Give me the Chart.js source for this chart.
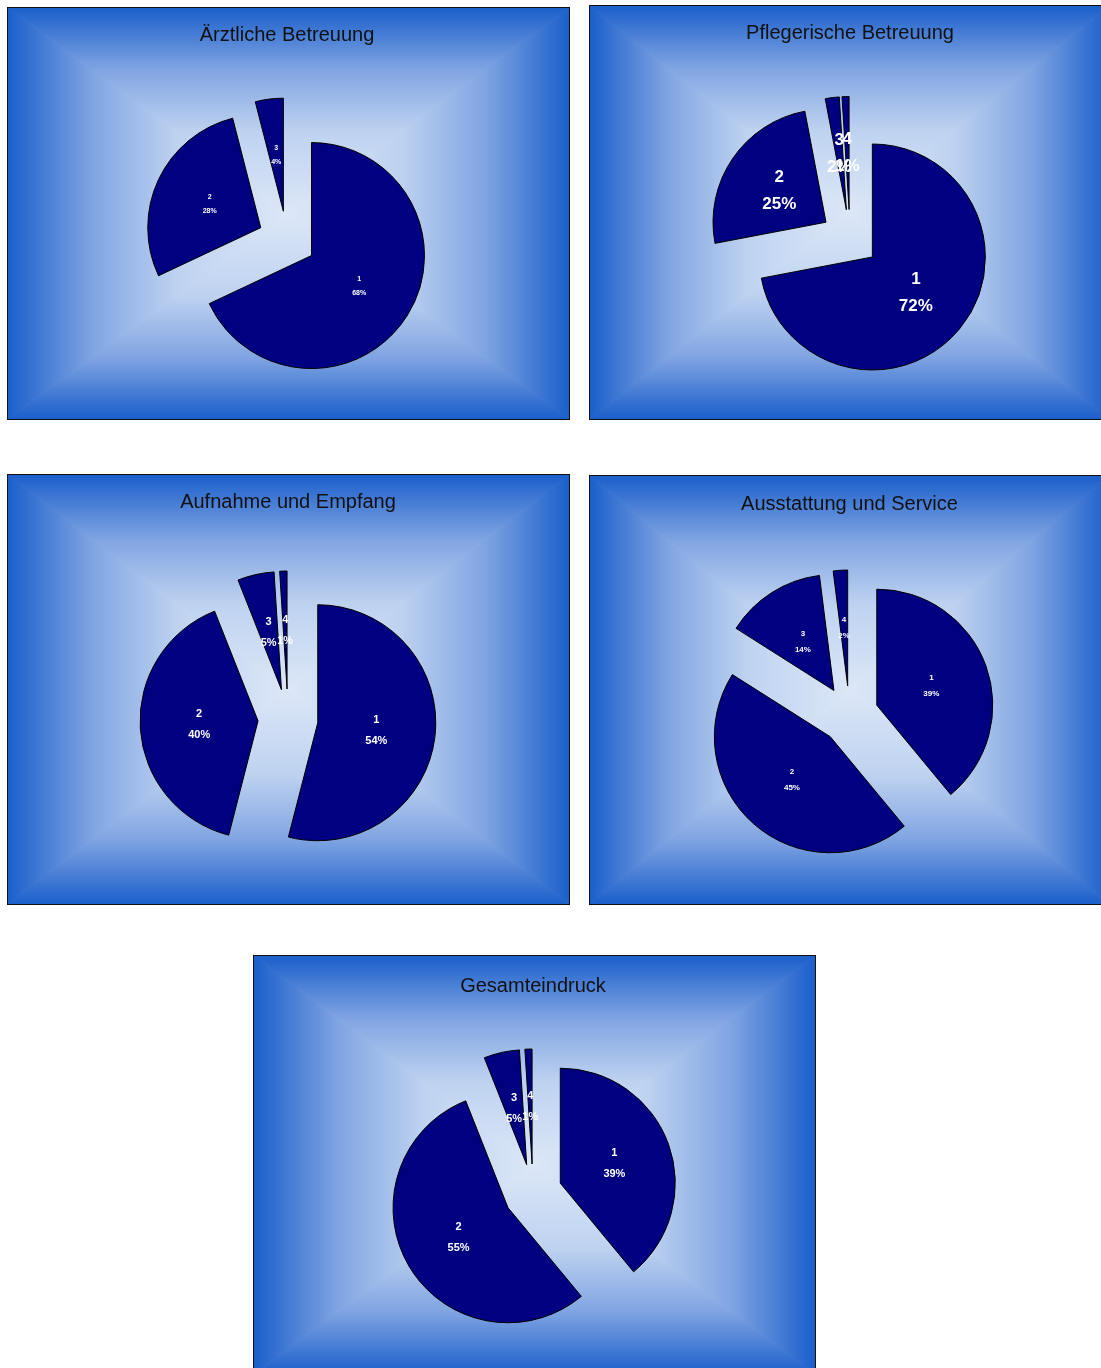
<!DOCTYPE html>
<html>
<head>
<meta charset="utf-8">
<script src="https://cdn.jsdelivr.net/npm/chart.js@4/dist/chart.umd.min.js"></script>
<style>
    body { margin: 0; background: #fff; width: 1101px; height: 1368px; overflow: hidden; position: relative; }
    .panel { position: absolute; border: 1px solid #111; }
    .panel canvas { display: block; }
</style>
</head>
<body>
<div class="panel" id="p1" style="left:7px; top:7px;"><canvas id="c1" width="561" height="411"></canvas></div>
<div class="panel" id="p2" style="left:589px; top:5px;"><canvas id="c2" width="519" height="413"></canvas></div>
<div class="panel" id="p3" style="left:7px; top:474px;"><canvas id="c3" width="561" height="429"></canvas></div>
<div class="panel" id="p4" style="left:589px; top:475px;"><canvas id="c4" width="519" height="428"></canvas></div>
<div class="panel" id="p5" style="left:253px; top:955px;"><canvas id="c5" width="561" height="418"></canvas></div>

<script>
// data
var categories = ['1', '2', '3', '4'];
var chartTitles = ['Ärztliche Betreuung', 'Pflegerische Betreuung', 'Aufnahme und Empfang', 'Ausstattung und Service', 'Gesamteindruck'];
var aerztlich = [68, 28, 4];
var pflegerisch = [72, 25, 2, 1];
var aufnahme = [54, 40, 5, 1];
var ausstattung = [39, 45, 14, 2];
var gesamt = [39, 55, 5, 1];

// per chart layout: radius, explode distance (px), title padding, side padding, label font
var setups = [
    {id: 'c1', values: aerztlich,   radius: 113, explode: 29, tTop: 15, tBottom: 14, pl: 0, pr: 3, fs: 7,  gap: 14},
    {id: 'c2', values: pflegerisch, radius: 113, explode: 29, tTop: 15, tBottom: 13, pl: 1, pr: 0, fs: 17, gap: 27},
    {id: 'c3', values: aufnahme,    radius: 118, explode: 30, tTop: 15, tBottom: 20, pl: 0, pr: 1, fs: 11, gap: 21},
    {id: 'c4', values: ausstattung, radius: 116, explode: 29, tTop: 16, tBottom: 10, pl: 0, pr: 0, fs: 8,  gap: 16},
    {id: 'c5', values: gesamt,      radius: 115, explode: 29, tTop: 18, tBottom: 14, pl: 0, pr: 3, fs: 11, gap: 21}
];

// rectangular "from center" gradient like the old office charts
var bgPlugin = {
    id: 'rectGradient',
    beforeDraw: function(chart){
        var ctx = chart.ctx;
        var w = chart.width, h = chart.height;
        var cx = w / 2, cy = h / 2;
        var stops = [[0, '#dce7f7'], [0.4, '#bed2f0'], [0.7, '#80a4e2'], [1, '#1b5fcb']];
        var tris = [
            [[0, 0], [w, 0], cx, cy, cx, 0],
            [[w, 0], [w, h], cx, cy, w, cy],
            [[w, h], [0, h], cx, cy, cx, h],
            [[0, h], [0, 0], cx, cy, 0, cy]
        ];
        ctx.save();
        tris.forEach(function(t){
            var g = ctx.createLinearGradient(t[2], t[3], t[4], t[5]);
            stops.forEach(function(s){ g.addColorStop(s[0], s[1]); });
            ctx.beginPath();
            ctx.moveTo(cx, cy);
            ctx.lineTo(t[0][0], t[0][1]);
            ctx.lineTo(t[1][0], t[1][1]);
            ctx.closePath();
            ctx.fillStyle = g;
            ctx.strokeStyle = g;
            ctx.lineWidth = 1;
            ctx.fill();
            ctx.stroke();
        });
        ctx.restore();
    }
};

// pull every slice out of the centre along its middle angle (excel style explosion)
var explodePlugin = {
    id: 'explode',
    beforeDatasetsDraw: function(chart, args, opts){
        var area = chart.chartArea;
        var cx = (area.left + area.right) / 2;
        var cy = (area.top + area.bottom) / 2;
        chart.getDatasetMeta(0).data.forEach(function(arc){
            var mid = (arc.startAngle + arc.endAngle) / 2;
            arc.x = cx + Math.cos(mid) * opts.dist;
            arc.y = cy + Math.sin(mid) * opts.dist;
        });
    }
};

// "1 / 68%" labels inside each slice
var labelPlugin = {
    id: 'sliceLabels',
    afterDatasetsDraw: function(chart, args, opts){
        var ctx = chart.ctx;
        var meta = chart.getDatasetMeta(0);
        var values = chart.data.datasets[0].data;
        var total = values.reduce(function(a, b){ return a + b; }, 0);
        ctx.save();
        ctx.fillStyle = '#fff';
        ctx.textAlign = 'center';
        ctx.textBaseline = 'middle';
        ctx.font = 'bold ' + opts.fs + 'px "Liberation Sans", Arial, sans-serif';
        meta.data.forEach(function(arc, i){
            var mid = (arc.startAngle + arc.endAngle) / 2;
            var x = arc.x + Math.cos(mid) * arc.outerRadius * 0.5;
            var y = arc.y + Math.sin(mid) * arc.outerRadius * 0.5;
            ctx.fillText(chart.data.labels[i], x, y - opts.gap / 2);
            ctx.fillText(Math.round(values[i] / total * 100) + '%', x, y + opts.gap / 2);
        });
        ctx.restore();
    }
};

setups.forEach(function(s, k){
    new Chart(document.getElementById(s.id), {
        type: 'pie',
        data: {
            labels: categories.slice(0, s.values.length),
            datasets: [{
                data: s.values,
                backgroundColor: '#000080',
                borderColor: '#000',
                borderWidth: 1,
                offset: 0,
                hoverOffset: 0
            }]
        },
        plugins: [bgPlugin, explodePlugin, labelPlugin],
        options: {
            responsive: false,
            animation: false,
            radius: s.radius,
            layout: { padding: { left: s.pl, right: s.pr, top: 0, bottom: 0 } },
            plugins: {
                legend: { display: false },
                tooltip: { enabled: false },
                title: {
                    display: true,
                    text: chartTitles[k],
                    color: '#111',
                    font: { family: '"Liberation Sans", Arial, sans-serif', size: 20, weight: 'normal', lineHeight: 1.2 },
                    padding: { top: s.tTop, bottom: s.tBottom }
                },
                explode: { dist: s.explode },
                sliceLabels: { fs: s.fs, gap: s.gap }
            }
        }
    });
});
</script>
</body>
</html>
